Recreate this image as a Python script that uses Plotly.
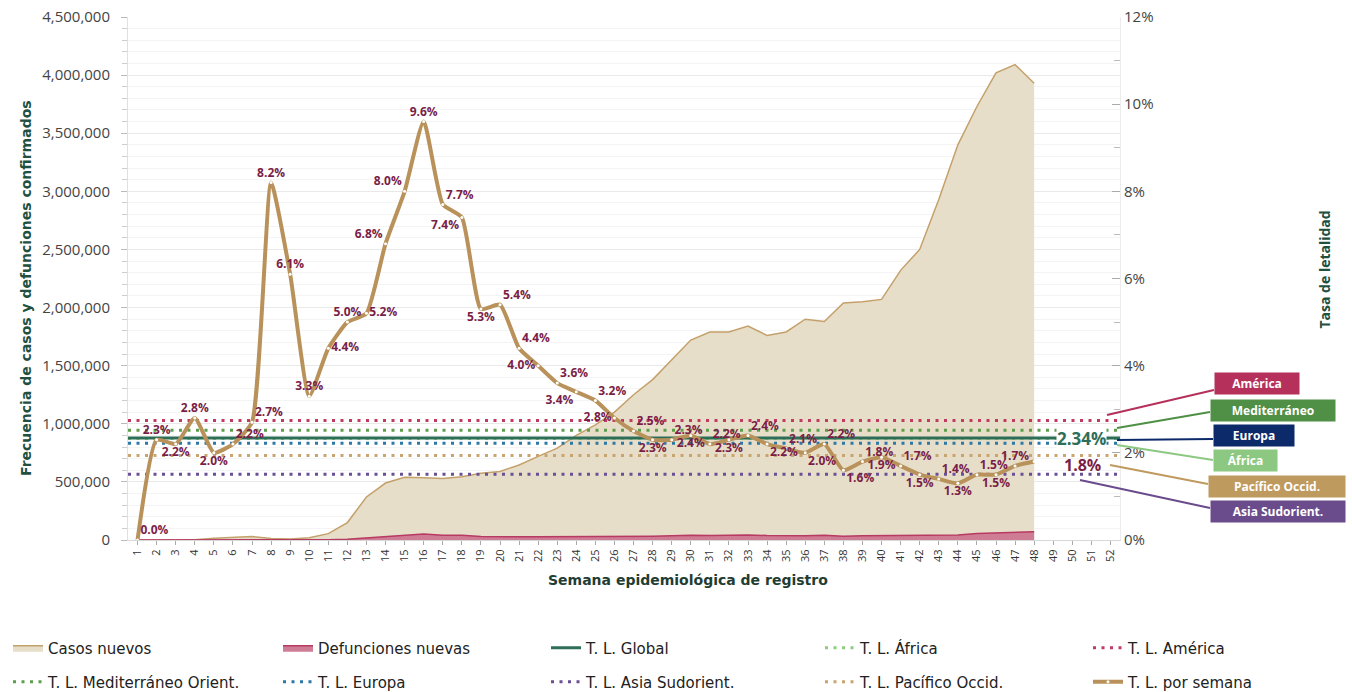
"""Casos, defunciones y tasa de letalidad por semana epidemiológica."""

import plotly.graph_objects as go

# --- datos -----------------------------------------------------------------
WEEKS = list(range(1, 49))
AXIS_WEEKS = list(range(1, 53))

CASOS_NUEVOS = [
    500, 1500, 2500, 3000, 15000, 22000, 30000, 12000, 8000, 20000,
    55000, 150000, 370000, 490000, 540000, 535000, 530000, 545000, 575000, 590000,
    645000, 720000, 790000, 900000, 990000, 1100000, 1250000, 1380000, 1550000, 1720000,
    1790000, 1790000, 1840000, 1760000, 1790000, 1900000, 1880000, 2040000, 2050000, 2070000,
    2320000, 2500000, 2930000, 3400000, 3730000, 4020000, 4090000, 3930000,
]

DEFUNCIONES_NUEVAS = [
    0, 0, 50, 70, 300, 450, 800, 800, 500, 700,
    2400, 7500, 19000, 33000, 43000, 51000, 41000, 40000, 30000, 32000,
    28000, 29000, 28500, 30500, 31500, 31000, 31000, 32000, 36000, 41000,
    39000, 41000, 44000, 39000, 37500, 37000, 41000, 33000, 37000, 39000,
    39000, 37500, 41000, 44000, 56000, 60000, 69000, 71000,
]

TASA_SEMANA = [
    0.0, 2.3, 2.2, 2.8, 2.0, 2.2, 2.7, 8.2, 6.1, 3.3,
    4.4, 5.0, 5.2, 6.8, 8.0, 9.6, 7.7, 7.4, 5.3, 5.4,
    4.4, 4.0, 3.6, 3.4, 3.2, 2.8, 2.5, 2.3, 2.3, 2.4,
    2.2, 2.3, 2.4, 2.2, 2.1, 2.0, 2.2, 1.6, 1.8, 1.9,
    1.7, 1.5, 1.4, 1.3, 1.5, 1.5, 1.7, 1.8,
]

TASA_GLOBAL = 2.34

REGIONES = ["América", "Mediterráneo", "Europa", "África", "Pacífico Occid.", "Asia Sudorient."]
REGIONES_LEYENDA = [
    "T. L. América", "T. L. Mediterráneo Orient.", "T. L. Europa",
    "T. L. África", "T. L. Pacífico Occid.", "T. L. Asia Sudorient.",
]
TASA_REGION = [2.74, 2.52, 2.22, 2.33, 1.94, 1.51]

# --- estilo ----------------------------------------------------------------
FONT = "Open Sans"
WIDE_FONT = "DejaVu Sans"
TITLE_GREEN = "#22503f"
LABEL_RED = "#7a1e48"
LINE_COLORS = ["#c13a62", "#5c9e4c", "#2e78a6", "#8ccc7c", "#c9a46e", "#6b4f94"]
BOX_COLORS = ["#b5305a", "#4f8f46", "#0c2a6a", "#8dc882", "#bf9a5e", "#6a4c8c"]

# one legend per entry, laid out as a 5 x 2 grid (pixel positions)
LEGEND_COLS = [8, 278, 546, 820, 1088]
LEGEND_ROWS = [648, 682]
# slot index (row * 5 + col) for: casos, defunciones, global, regions..., por semana
SLOT_CASOS, SLOT_DEF, SLOT_GLOBAL, SLOT_SEMANA = 0, 1, 2, 9
SLOT_REGION = [4, 5, 6, 3, 8, 7]

LABEL_POS = [
    "top right", "top center", "bottom center", "top center", "bottom center",
    "top right", "top right", "top center", "top center", "top center",
    "middle right", "top center", "middle right", "top left", "top left",
    "top center", "top right", "bottom left", "bottom center", "top right",
    "top right", "middle left", "top right", "bottom left", "top right",
    "middle left", "top right", "bottom center", "top right", "bottom center",
    "top right", "bottom center", "top right", "bottom right", "top right",
    "bottom right", "top right", "bottom right", "top right", "bottom center",
    "top right", "bottom center", "top right", "bottom center", "top right",
    "bottom center", "top center", "top center",
]

# plot area in pixels
W, H = 1352, 692
L, R, T, B = 128, 1120, 17, 540


def px_x(px: float) -> float:
    return (px - L) / (R - L)


def px_y(py: float) -> float:
    return (B - py) / (B - T)


def legend_id(slot: int) -> str:
    return "legend" if slot == 0 else f"legend{slot + 1}"


fig = go.Figure()

fig.add_trace(go.Scatter(
    x=WEEKS, y=CASOS_NUEVOS, name="Casos nuevos", mode="lines",
    line=dict(color="#c4a06a", width=1.5), fill="tozeroy", fillcolor="#e7dec9",
    legend=legend_id(SLOT_CASOS), hoverinfo="skip",
))
fig.add_trace(go.Scatter(
    x=WEEKS, y=DEFUNCIONES_NUEVAS, name="Defunciones nuevas", mode="lines",
    line=dict(color="#b83a62", width=1.5), fill="tozeroy", fillcolor="#cf7d95",
    legend=legend_id(SLOT_DEF), hoverinfo="skip",
))

x_span = [AXIS_WEEKS[0] - 0.5, AXIS_WEEKS[-1] + 0.5]
for name, rate, color, slot in zip(REGIONES_LEYENDA, TASA_REGION, LINE_COLORS, SLOT_REGION):
    fig.add_trace(go.Scatter(
        x=x_span, y=[rate, rate], name=name, mode="lines", yaxis="y2",
        line=dict(color=color, width=3, dash="3px,5.5px"),
        legend=legend_id(slot),
    ))

fig.add_trace(go.Scatter(
    x=x_span, y=[TASA_GLOBAL, TASA_GLOBAL], name="T. L. Global", mode="lines", yaxis="y2",
    line=dict(color="#2e6e58", width=3), legend=legend_id(SLOT_GLOBAL),
))

labels = [f"{v:.1f}%" for v in TASA_SEMANA]
labels[-1] = ""
fig.add_trace(go.Scatter(
    x=WEEKS, y=TASA_SEMANA, name="T. L. por semana", mode="lines+markers+text", yaxis="y2",
    line=dict(color="#b8925a", width=4, shape="spline", smoothing=0.5),
    marker=dict(color="white", size=3),
    text=labels, textposition=LABEL_POS,
    textfont=dict(family=FONT, size=12, color=LABEL_RED, weight="bold"),
    legend=legend_id(SLOT_SEMANA),
))

# --- anotaciones -----------------------------------------------------------
annotations = [
    dict(text="Frecuencia de casos y defunciones confirmados", textangle=-90,
         x=px_x(16), y=px_y(288), xref="paper", yref="paper", showarrow=False,
         font=dict(family=WIDE_FONT, size=14, color=TITLE_GREEN, weight="bold")),
    dict(text="Tasa de letalidad", textangle=-90,
         x=px_x(1335), y=px_y(270), xref="paper", yref="paper", showarrow=False,
         font=dict(family=FONT, size=14, color=TITLE_GREEN, weight="bold")),
    dict(text="Semana epidemiológica de registro",
         x=px_x(688), y=px_y(590), xref="paper", yref="paper", showarrow=False,
         font=dict(family=WIDE_FONT, size=14, color="#1f3d33", weight="bold")),
    dict(text=f"{TASA_GLOBAL:.2f}%", x=px_x(1081), y=TASA_GLOBAL, xref="paper", yref="y2",
         xanchor="center", showarrow=False, bgcolor="white", borderpad=0,
         font=dict(family=FONT, size=17, color="#2e6e58", weight="bold")),
    dict(text=f"{TASA_SEMANA[-1]:.1f}%", x=px_x(1082), y=TASA_SEMANA[-1], yshift=-3,
         xanchor="center", xref="paper", yref="y2", showarrow=False,
         font=dict(family=FONT, size=16, color=LABEL_RED, weight="bold")),
]

BOX_LEFT = [1214, 1210, 1213, 1213, 1208, 1210]
BOX_W = [84, 124, 80, 63, 136, 134]
BOX_Y = [383, 410, 435, 460, 486, 511]
LEAD_START = [(1107, 415), (1117, 428), (1117, 440), (1117, 445), (1110, 465), (1080, 480)]
LEAD_END = [(1214, 390), (1210, 412), (1213, 439), (1213, 460), (1208, 484), (1210, 508)]

shapes = []
for reg, color, left, bw, by, (sx, sy), (ex, ey) in zip(
        REGIONES, BOX_COLORS, BOX_LEFT, BOX_W, BOX_Y, LEAD_START, LEAD_END):
    shapes.append(dict(type="line", xref="paper", yref="paper",
                       x0=px_x(sx), y0=px_y(sy), x1=px_x(ex), y1=px_y(ey),
                       line=dict(color=color, width=2)))
    annotations.append(dict(
        text=reg, x=px_x(left), y=px_y(by), xref="paper", yref="paper",
        xanchor="left", yanchor="middle", showarrow=False,
        width=bw - 6, height=15, borderpad=3, bgcolor=color, align="center",
        font=dict(family=FONT, size=12, color="white", weight="bold"),
    ))

legends = {}
for slot in range(10):
    row, col = divmod(slot, 5)
    legends[legend_id(slot)] = dict(
        orientation="h", xanchor="left", yanchor="middle",
        x=px_x(LEGEND_COLS[col]), y=px_y(LEGEND_ROWS[row]),
        bgcolor="rgba(0,0,0,0)", itemwidth=30,
        font=dict(family=WIDE_FONT, size=15, color="#222"),
    )

fig.update_layout(
    width=W, height=H,
    margin=dict(l=L, r=W - R, t=T, b=H - B, autoexpand=False),
    plot_bgcolor="white", paper_bgcolor="white",
    font=dict(family=FONT, color="#444"),
    showlegend=True,
    annotations=annotations,
    shapes=shapes,
    xaxis=dict(
        range=x_span, tickmode="array", tickvals=AXIS_WEEKS, ticktext=[str(w) for w in AXIS_WEEKS],
        tickangle=-90, tickfont=dict(size=11, color="#333"),
        ticks="outside", ticklen=4, tickcolor="#aaa", showgrid=False,
        showline=True, linecolor="#d8d8d8", zeroline=False,
    ),
    yaxis=dict(
        range=[0, 4500000], dtick=500000, tickformat=",d",
        tickfont=dict(size=15, color="#444"), ticklabelstandoff=8,
        ticks="outside", ticklen=6, tickcolor="#bbb",
        showgrid=True, gridcolor="#e9e9e9", zeroline=False,
        showline=True, linecolor="#e0e0e0",
        minor=dict(dtick=100000, showgrid=True, gridcolor="#f4f4f4",
                   ticks="outside", ticklen=5, tickcolor="#ccc"),
    ),
    yaxis2=dict(
        overlaying="y", side="right", range=[0, 12], dtick=2, ticksuffix="%",
        tickfont=dict(size=15, color="#444"),
        ticks="inside", ticklen=8, tickcolor="#aaa",
        showgrid=False, zeroline=False, showline=True, linecolor="#ececec",
        minor=dict(dtick=1, ticks="inside", ticklen=6, tickcolor="#bbb"),
    ),
    **legends,
)

# the page's default body margin would shift the figure by 8px
fig.write_html(
    "out.html",
    config={"displayModeBar": False},
    post_script="document.body.style.margin = '0';",
)
